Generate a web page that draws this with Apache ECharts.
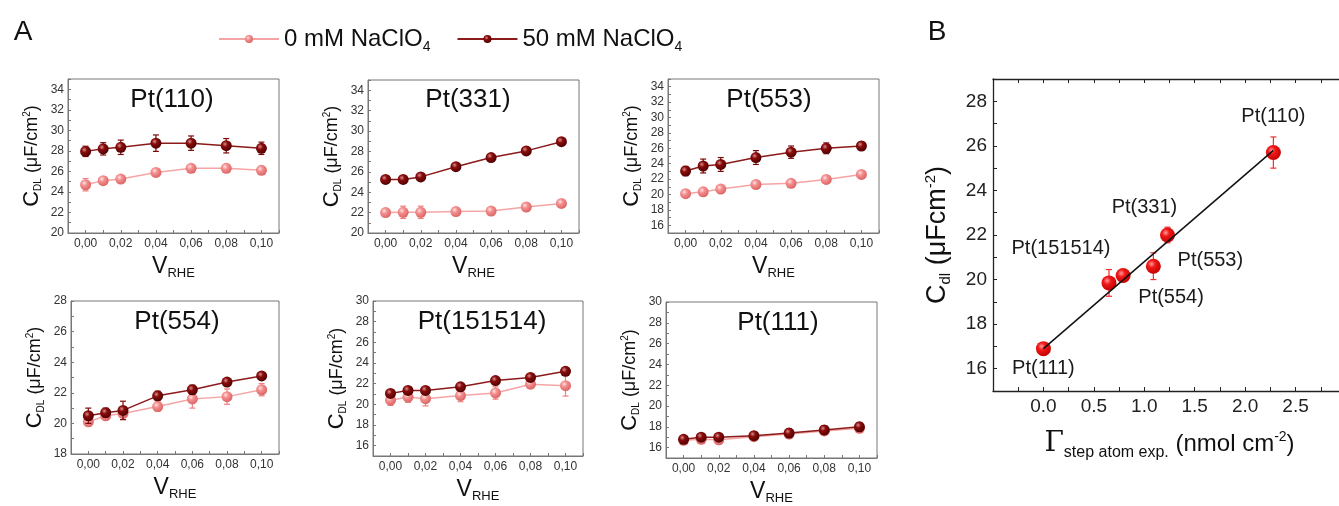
<!DOCTYPE html>
<html>
<head>
<meta charset="utf-8">
<script src="https://cdn.jsdelivr.net/npm/echarts@6/dist/echarts.min.js"></script>
<style>
  html, body { margin: 0; padding: 0; background: #fff; }
  #chart { width: 1339px; height: 506px; }
</style>
</head>
<body>
<div id="chart"></div>
<script>
// ---- data (panel A) ----
var vRHE = [0, 0.01, 0.02, 0.04, 0.06, 0.08, 0.10];
var facets = ['Pt(110)', 'Pt(331)', 'Pt(553)', 'Pt(554)', 'Pt(151514)', 'Pt(111)'];
var yMin = [20, 20, 15, 18, 15, 15];
var yMax = [35, 35, 35, 28, 30, 30];

var pt110_0 = [24.7, 25.1, 25.25, 25.9, 26.3, 26.3, 26.1];
var pt110_50 = [27.95, 28.2, 28.35, 28.75, 28.75, 28.5, 28.25];
var pt331_0 = [22.0, 22.03, 22.03, 22.1, 22.15, 22.55, 22.9];
var pt331_50 = [25.25, 25.25, 25.5, 26.5, 27.4, 28.05, 28.95];
var pt553_0 = [20.1, 20.35, 20.7, 21.3, 21.45, 21.95, 22.6];
var pt553_50 = [23.05, 23.7, 23.9, 24.8, 25.5, 26.0, 26.3];
var pt554_0 = [20.1, 20.5, 20.65, 21.1, 21.6, 21.75, 22.2];
var pt554_50 = [20.5, 20.7, 20.85, 21.8, 22.2, 22.7, 23.1];
var pt151514_0 = [20.4, 20.7, 20.55, 20.85, 21.1, 21.95, 21.8];
var pt151514_50 = [21.05, 21.35, 21.35, 21.7, 22.3, 22.6, 23.2];
var pt111_0 = [16.7, 16.8, 16.75, 17.05, 17.3, 17.6, 17.85];
var pt111_50 = [16.8, 17.0, 17.0, 17.15, 17.4, 17.7, 18.0];

var err110_0 = [0.6, 0.3, 0.3, 0.2, 0.2, 0.2, 0.2];
var err110_50 = [0.5, 0.6, 0.7, 0.8, 0.7, 0.7, 0.6];
var err331_0 = [0.2, 0.6, 0.6, 0.3, 0.2, 0.2, 0.2];
var err331_50 = [0.2, 0.2, 0.2, 0.2, 0.2, 0.2, 0.2];
var err553_0 = [0.3, 0.3, 0.3, 0.3, 0.3, 0.3, 0.3];
var err553_50 = [0.6, 0.9, 0.9, 0.9, 0.8, 0.7, 0.5];
var err554_0 = [0.2, 0.2, 0.4, 0.3, 0.6, 0.5, 0.4];
var err554_50 = [0.5, 0.3, 0.6, 0.3, 0.3, 0.2, 0.2];
var err151514_0 = [0.5, 0.5, 0.7, 0.6, 0.6, 0.4, 1.0];
var err151514_50 = [0.2, 0.2, 0.2, 0.2, 0.2, 0.2, 0.2];
var err111_0 = [0.2, 0.2, 0.2, 0.2, 0.2, 0.2, 0.2];
var err111_50 = [0.2, 0.3, 0.3, 0.3, 0.4, 0.4, 0.4];

// ---- data (panel B) ----
var surfaces = ['Pt(111)', 'Pt(151514)', 'Pt(554)', 'Pt(553)', 'Pt(331)', 'Pt(110)'];
var stepDensity = [0, 0.65, 0.79, 1.09, 1.23, 2.28];
var cdlB = [16.9, 19.85, 20.18, 20.6, 22.0, 25.7];
var errB = [0.2, 0.6, 0.2, 0.6, 0.35, 0.7];
var fitX = [0, 2.28];
var fitY = [16.9, 25.8];

var low = [pt110_0, pt331_0, pt553_0, pt554_0, pt151514_0, pt111_0];
var high = [pt110_50, pt331_50, pt553_50, pt554_50, pt151514_50, pt111_50];
var lowErr = [err110_0, err331_0, err553_0, err554_0, err151514_0, err111_0];
var highErr = [err110_50, err331_50, err553_50, err554_50, err151514_50, err111_50];

// ---- layout ----
var FONT = 'Liberation Sans, Arial, sans-serif';
var grids = [
  { left: 68, top: 79, width: 211, height: 154 },
  { left: 368, top: 80, width: 211, height: 153 },
  { left: 668, top: 79, width: 211, height: 154 },
  { left: 71, top: 301, width: 208, height: 153 },
  { left: 373, top: 301, width: 210, height: 155 },
  { left: 666, top: 302, width: 211, height: 156 },
  { left: 993, top: 79, width: 353, height: 312 }
];
var titlePos = [[172, 100], [468, 100], [769, 100], [177, 322], [482, 322], [778, 323]];
var labelOffsets = [[0, 20], [-48, -34], [48, 22], [57, -6], [-23, -28], [0, -36]];

var pinkBall = {
  type: 'radial', x: 0.38, y: 0.35, r: 0.7,
  colorStops: [{ offset: 0, color: '#ffe4e4' }, { offset: 0.35, color: '#f59090' }, { offset: 1, color: '#d86060' }]
};
var darkBall = {
  type: 'radial', x: 0.38, y: 0.35, r: 0.7,
  colorStops: [{ offset: 0, color: '#d89090' }, { offset: 0.35, color: '#8a0c0c' }, { offset: 1, color: '#4a0000' }]
};
var redBall = {
  type: 'radial', x: 0.38, y: 0.35, r: 0.7,
  colorStops: [{ offset: 0, color: '#ff9a9a' }, { offset: 0.35, color: '#f01818' }, { offset: 1, color: '#c00000' }]
};

function errorBars(params, api) {
  var x = api.value(0), y = api.value(1), e = api.value(2);
  var top = api.coord([x, y + e]);
  var bot = api.coord([x, y - e]);
  var w = 3;
  var st = { stroke: api.visual('color'), lineWidth: 1.2 };
  return {
    type: 'group',
    children: [
      { type: 'line', shape: { x1: top[0], y1: top[1], x2: bot[0], y2: bot[1] }, style: st },
      { type: 'line', shape: { x1: top[0] - w, y1: top[1], x2: top[0] + w, y2: top[1] }, style: st },
      { type: 'line', shape: { x1: bot[0] - w, y1: bot[1], x2: bot[0] + w, y2: bot[1] }, style: st }
    ]
  };
}

var gridOpts = grids.map(function (g, i) {
  return Object.assign({
    show: i < 6, borderColor: '#777', borderWidth: 1, outerBoundsMode: 'none', containLabel: false
  }, g);
});

var xAxes = [], yAxes = [], series = [];
for (var i = 0; i < 6; i++) {
  xAxes.push({
    gridIndex: i, type: 'value', min: -0.01, max: 0.11, interval: 0.01,
    axisLine: { onZero: false, lineStyle: { color: '#777' } },
    axisTick: { inside: true, length: 3, lineStyle: { color: '#777' } },
    axisLabel: {
      fontSize: 12, color: '#333', margin: 5, fontFamily: FONT,
      formatter: function (v) {
        var k = Math.round(v * 100);
        return (k >= 0 && k <= 10 && k % 2 === 0) ? (k / 100).toFixed(2).replace('.', ',') : '';
      }
    },
    splitLine: { show: false },
    name: '{v|V}{s|RHE}', nameLocation: 'middle', nameGap: 20,
    nameTextStyle: {
      rich: {
        v: { fontSize: 23, color: '#111', fontFamily: FONT, lineHeight: 26 },
        s: { fontSize: 13, color: '#111', fontFamily: FONT, padding: [14, 0, 0, 0] }
      }
    }
  });
  yAxes.push({
    gridIndex: i, type: 'value', min: yMin[i], max: yMax[i], interval: 1,
    axisLine: { onZero: false, lineStyle: { color: '#777' } },
    axisTick: { inside: true, length: 3, lineStyle: { color: '#777' } },
    axisLabel: {
      fontSize: 12, color: '#333', margin: 4, fontFamily: FONT,
      formatter: function (v) { return v % 2 === 0 ? String(v) : ''; }
    },
    splitLine: { show: false },
    name: '{c|C}{s|DL}{t| (μF/cm}{p|2}{t|)}', nameLocation: 'middle', nameGap: 24, nameRotate: 90,
    nameTextStyle: {
      rich: {
        c: { fontSize: 22, color: '#111', fontFamily: FONT, lineHeight: 24 },
        t: { fontSize: 18, color: '#111', fontFamily: FONT },
        s: { fontSize: 10, color: '#111', fontFamily: FONT, padding: [12, 0, 0, 0] },
        p: { fontSize: 10, color: '#111', fontFamily: FONT, padding: [0, 0, 10, 0] }
      }
    }
  });

  var sets = [
    { name: '0 mM', vals: low[i], errs: lowErr[i], line: '#f5a5a5', err: '#f08080', ball: pinkBall, z: 3 },
    { name: '50 mM', vals: high[i], errs: highErr[i], line: '#8b1a1a', err: '#7a0a0a', ball: darkBall, z: 5 }
  ];
  sets.forEach(function (s) {
    series.push({
      type: 'custom', xAxisIndex: i, yAxisIndex: i, renderItem: errorBars, z: s.z - 1,
      itemStyle: { color: s.err }, silent: true,
      data: vRHE.map(function (v, j) { return [v, s.vals[j], s.errs[j]]; })
    });
    series.push({
      name: s.name, type: 'line', xAxisIndex: i, yAxisIndex: i, z: s.z,
      symbol: 'circle', symbolSize: 11,
      lineStyle: { color: s.line, width: 1.5 },
      itemStyle: { color: s.ball },
      data: vRHE.map(function (v, j) { return [v, s.vals[j]]; })
    });
  });
}

// ---- panel B axes ----
var bLabel = { fontSize: 19, color: '#222', fontFamily: FONT };
xAxes.push({
  gridIndex: 6, type: 'value', min: -0.5, max: 3.0, interval: 0.25,
  axisLine: { onZero: false, lineStyle: { color: '#222', width: 1.3 } },
  axisTick: { inside: true, length: 4, lineStyle: { color: '#222' } },
  axisLabel: Object.assign({
    margin: 6,
    formatter: function (v) {
      var k = Math.round(v * 100);
      return (k >= 0 && k <= 250 && k % 50 === 0) ? (k / 100).toFixed(1) : '';
    }
  }, bLabel),
  splitLine: { show: false },
  name: '{g|Γ}{s|step atom exp.}{t| (nmol cm}{p|-2}{t|)}', nameLocation: 'middle', nameGap: 36,
  nameTextStyle: {
    rich: {
      g: { fontSize: 28, color: '#111', fontFamily: 'DejaVu Serif, Liberation Serif, serif', lineHeight: 30 },
      t: { fontSize: 24, color: '#111', fontFamily: FONT },
      s: { fontSize: 16, color: '#111', fontFamily: FONT, padding: [18, 0, 0, 0] },
      p: { fontSize: 14, color: '#111', fontFamily: FONT, padding: [0, 0, 14, 0] }
    }
  }
});
xAxes.push({
  gridIndex: 6, type: 'value', position: 'top', min: -0.5, max: 3.0, interval: 0.25,
  axisLine: { onZero: false, lineStyle: { color: '#222', width: 1.3 } },
  axisTick: { inside: true, length: 4, lineStyle: { color: '#222' } },
  axisLabel: { show: false }, splitLine: { show: false }
});
yAxes.push({
  gridIndex: 6, type: 'value', min: 15, max: 29, interval: 1,
  axisLine: { onZero: false, lineStyle: { color: '#222', width: 1.3 } },
  axisTick: { inside: true, length: 4, lineStyle: { color: '#222' } },
  axisLabel: Object.assign({
    margin: 6,
    formatter: function (v) { return v % 2 === 0 ? String(v) : ''; }
  }, bLabel),
  splitLine: { show: false },
  name: '{c|C}{s|dl}{t| (μFcm}{p|-2}{t|)}', nameLocation: 'middle', nameGap: 40, nameRotate: 90,
  nameTextStyle: {
    rich: {
      c: { fontSize: 27, color: '#111', fontFamily: FONT, lineHeight: 30 },
      t: { fontSize: 27, color: '#111', fontFamily: FONT },
      s: { fontSize: 15, color: '#111', fontFamily: FONT, padding: [16, 0, 0, 0] },
      p: { fontSize: 15, color: '#111', fontFamily: FONT, padding: [0, 0, 14, 0] }
    }
  }
});

series.push({
  type: 'custom', xAxisIndex: 6, yAxisIndex: 6, renderItem: errorBars, z: 4, silent: true,
  itemStyle: { color: '#f03030' },
  data: stepDensity.map(function (x, j) { return [x, cdlB[j], errB[j]]; })
});
series.push({
  name: 'B', type: 'scatter', xAxisIndex: 6, yAxisIndex: 6, z: 5,
  symbolSize: 15, itemStyle: { color: redBall, opacity: 1 },
  data: stepDensity.map(function (x, j) {
    return {
      value: [x, cdlB[j]], name: surfaces[j],
      label: { show: true, position: 'inside', offset: labelOffsets[j], formatter: '{b}', fontSize: 20, color: '#1a1a1a', opacity: 1, fontFamily: FONT }
    };
  })
});
series.push({
  name: 'fit', type: 'line', xAxisIndex: 6, yAxisIndex: 6, z: 6, symbol: 'none',
  lineStyle: { color: '#111', width: 1.5 },
  data: fitX.map(function (x, j) { return [x, fitY[j]]; })
});

var graphics = facets.map(function (t, i) {
  return {
    type: 'text', x: titlePos[i][0], y: titlePos[i][1], z: 10,
    style: { text: t, fontSize: 26, fill: '#111', fontFamily: FONT, textAlign: 'center', textVerticalAlign: 'middle' }
  };
});
graphics.push({ type: 'text', x: 23, y: 32, style: { text: 'A', fontSize: 28, fill: '#111', fontFamily: FONT, textAlign: 'center', textVerticalAlign: 'middle' } });
graphics.push({ type: 'text', x: 937, y: 32, style: { text: 'B', fontSize: 28, fill: '#111', fontFamily: FONT, textAlign: 'center', textVerticalAlign: 'middle' } });

var chart = echarts.init(document.getElementById('chart'));
chart.setOption({
  animation: false,
  backgroundColor: '#fff',
  legend: {
    data: ['0 mM', '50 mM'],
    left: 213, top: 22, itemWidth: 60, itemHeight: 10, itemGap: 26,
    formatter: function (name) { return '{a|' + name + ' NaClO}{s|4}'; },
    textStyle: {
      rich: {
        a: { fontSize: 24, color: '#111', fontFamily: FONT, lineHeight: 28 },
        s: { fontSize: 14, color: '#111', fontFamily: FONT, padding: [16, 0, 0, 0] }
      }
    }
  },
  grid: gridOpts,
  xAxis: xAxes,
  yAxis: yAxes,
  series: series,
  graphic: graphics
});
</script>
</body>
</html>
